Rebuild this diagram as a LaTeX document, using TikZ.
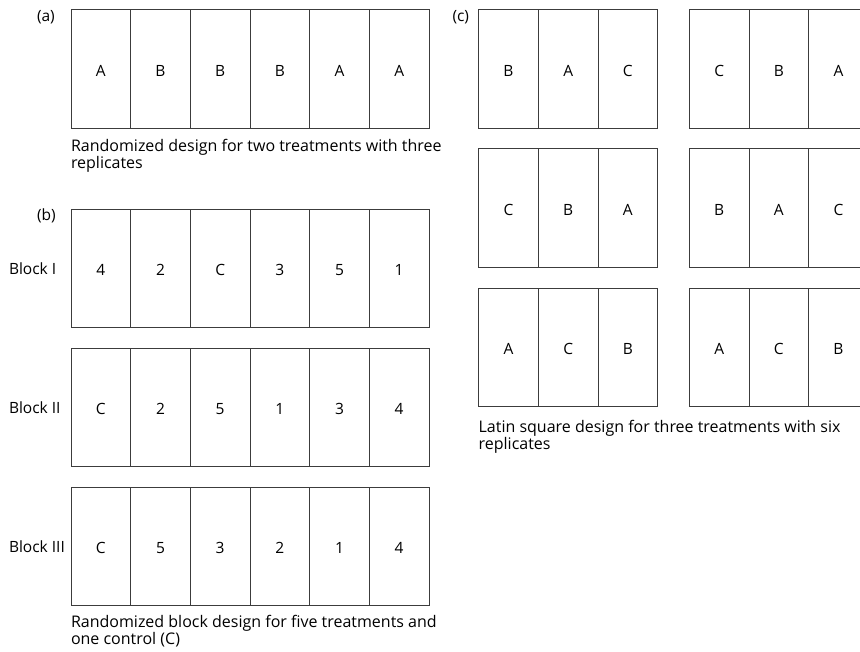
\documentclass[tikz,border=0pt]{standalone}
\usepackage{fontspec}
\setmainfont{Open Sans}
\definecolor{gridcolor}{RGB}{60,60,60}
\tikzset{
  plot/.style={draw=gridcolor,line width=0.9bp,anchor=north west,minimum width=59.67bp,minimum height=118.5bp,inner sep=0pt,outer sep=0pt,text height=15bp,text depth=0pt,font=\fontsize{15.5bp}{18.6bp}\selectfont},
  txt/.style={anchor=base west,inner sep=0pt,outer sep=0pt,font=\fontsize{15.5bp}{18.6bp}\selectfont},
  caption/.style={txt,font=\fontsize{16bp}{19.2bp}\selectfont}
}
\begin{document}
\begin{tikzpicture}[x=1bp,y=-1bp]
  \useasboundingbox (0,0) rectangle (860,652);
  % (a) randomized design
  \node[txt] (labela) at (37,21.5) {(a)};
  \node[plot] (a1) at (71.00,9.5) {A};
  \node[plot] (a2) at (130.67,9.5) {B};
  \node[plot] (a3) at (190.33,9.5) {B};
  \node[plot] (a4) at (250.00,9.5) {B};
  \node[plot] (a5) at (309.67,9.5) {A};
  \node[plot] (a6) at (369.33,9.5) {A};
  \node[caption] (capa1) at (71,151.6) {Randomized design for two treatments with three};
  \node[caption] (capa2) at (71,168.2) {replicates};
  % (b) randomized block design
  \node[txt] (labelb) at (37,220.5) {(b)};
  \node[txt] (blockI) at (9,274.75) {Block I};
  \node[plot] (bI1) at (71.00,209) {4};
  \node[plot] (bI2) at (130.67,209) {2};
  \node[plot] (bI3) at (190.33,209) {C};
  \node[plot] (bI4) at (250.00,209) {3};
  \node[plot] (bI5) at (309.67,209) {5};
  \node[plot] (bI6) at (369.33,209) {1};
  \node[txt] (blockII) at (9,413.75) {Block II};
  \node[plot] (bII1) at (71.00,348) {C};
  \node[plot] (bII2) at (130.67,348) {2};
  \node[plot] (bII3) at (190.33,348) {5};
  \node[plot] (bII4) at (250.00,348) {1};
  \node[plot] (bII5) at (309.67,348) {3};
  \node[plot] (bII6) at (369.33,348) {4};
  \node[txt] (blockIII) at (9,552.75) {Block III};
  \node[plot] (bIII1) at (71.00,487) {C};
  \node[plot] (bIII2) at (130.67,487) {5};
  \node[plot] (bIII3) at (190.33,487) {3};
  \node[plot] (bIII4) at (250.00,487) {2};
  \node[plot] (bIII5) at (309.67,487) {1};
  \node[plot] (bIII6) at (369.33,487) {4};
  \node[caption] (capb1) at (71,627.5) {Randomized block design for five treatments and};
  \node[caption] (capb2) at (71,644.1) {one control (C)};
  % (c) latin square design
  \node[txt] (labelc) at (452.5,21.5) {(c)};
  \node[plot] (c11) at (478.67,9.5) {B};
  \node[plot] (c12) at (538.33,9.5) {A};
  \node[plot] (c13) at (598.00,9.5) {C};
  \node[plot] (c14) at (689.33,9.5) {C};
  \node[plot] (c15) at (749.00,9.5) {B};
  \node[plot] (c16) at (808.67,9.5) {A};
  \node[plot] (c21) at (478.67,148.75) {C};
  \node[plot] (c22) at (538.33,148.75) {B};
  \node[plot] (c23) at (598.00,148.75) {A};
  \node[plot] (c24) at (689.33,148.75) {B};
  \node[plot] (c25) at (749.00,148.75) {A};
  \node[plot] (c26) at (808.67,148.75) {C};
  \node[plot] (c31) at (478.67,288) {A};
  \node[plot] (c32) at (538.33,288) {C};
  \node[plot] (c33) at (598.00,288) {B};
  \node[plot] (c34) at (689.33,288) {A};
  \node[plot] (c35) at (749.00,288) {C};
  \node[plot] (c36) at (808.67,288) {B};
  \node[caption] (capc1) at (478.67,432.7) {Latin square design for three treatments with six};
  \node[caption] (capc2) at (478.67,449.3) {replicates};
\end{tikzpicture}
\end{document}
